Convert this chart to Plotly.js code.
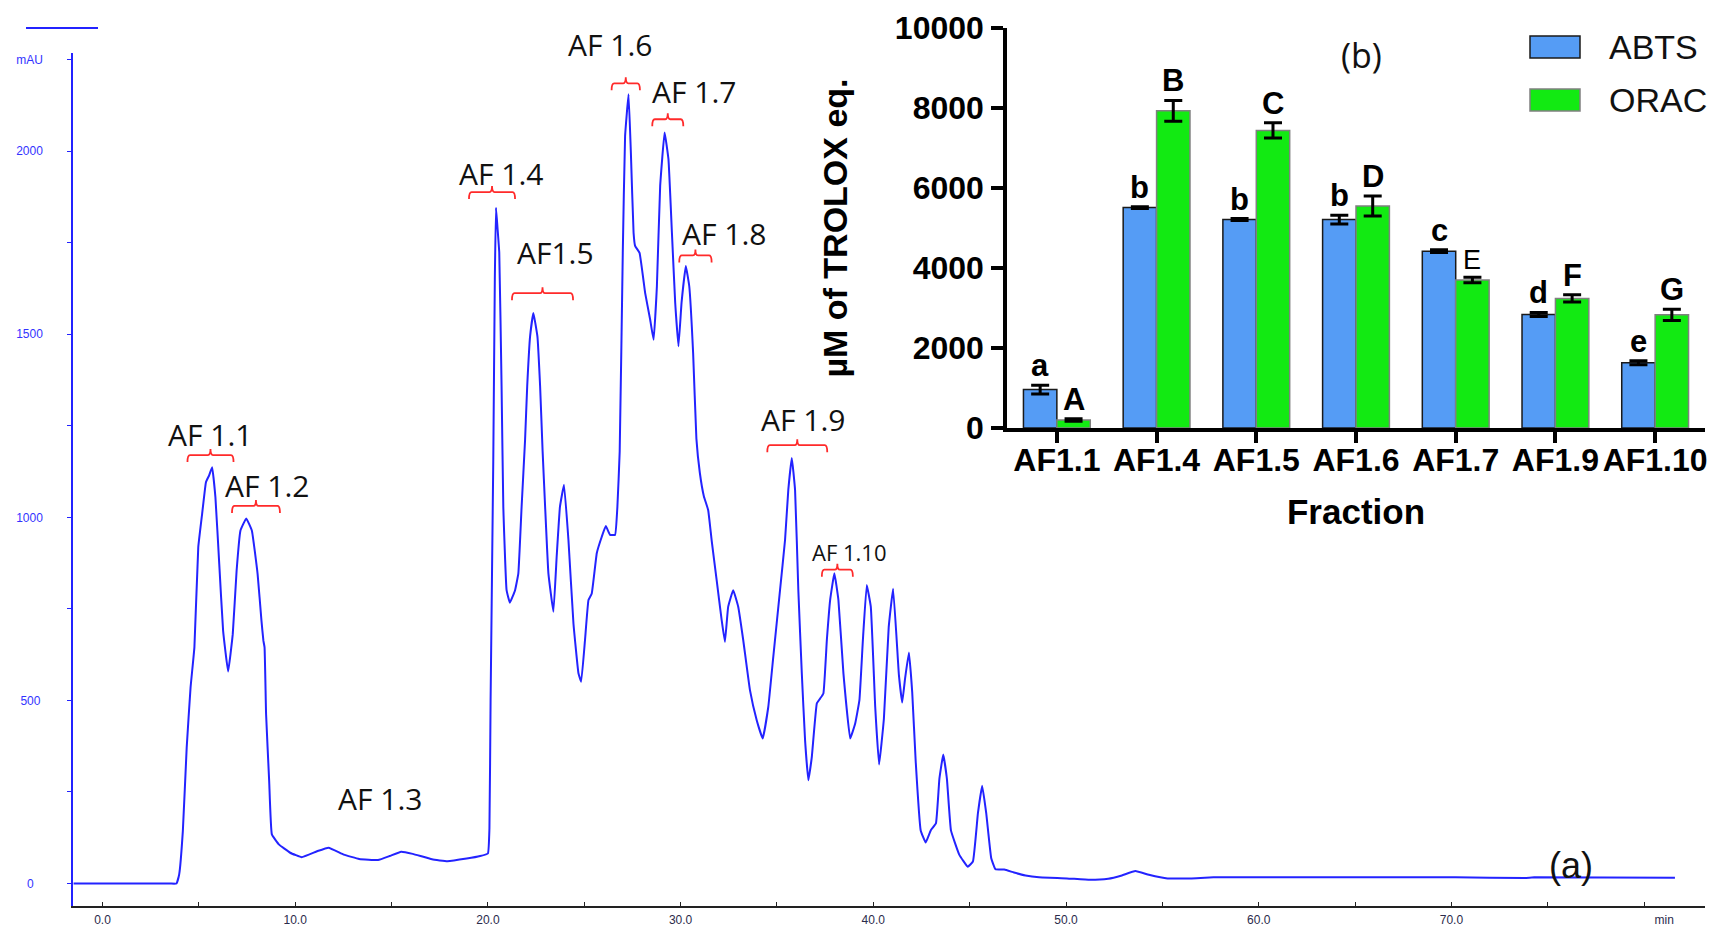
<!DOCTYPE html>
<html><head><meta charset="utf-8">
<script src="https://cdn.plot.ly/plotly-3.0.1.min.js"></script>
<style>html,body{margin:0;padding:0;background:#fff;}#chart{width:1714px;height:926px;}</style>
</head><body><div id="chart"></div>
<script>
// ---------- (a) chromatogram ----------
const timeMin = [-1.5,0,2,3.5,3.84,3.98,4.17,4.37,4.57,4.77,4.97,5.17,5.37,5.53,5.69,5.86,6.06,6.26,6.52,6.76,6.96,7.16,7.46,7.75,8.05,8.25,8.35,8.41,8.49,8.65,8.79,9.15,9.74,10.34,11.13,11.73,12.52,13.32,14.3,14.9,15.5,16.1,17.1,17.9,18.9,19.6,20.0,20.08,20.14,20.28,20.36,20.42,20.5,20.59,20.71,20.8,20.97,21.14,21.41,21.58,21.75,21.93,22.04,22.19,22.36,22.57,22.71,22.84,22.97,23.14,23.4,23.57,23.74,23.95,24.18,24.44,24.7,24.84,25.04,25.22,25.39,25.65,25.91,26.12,26.34,26.6,26.72,26.84,27.0,27.12,27.3,27.42,27.56,27.64,27.87,28.16,28.42,28.6,28.77,28.94,29.17,29.37,29.55,29.72,29.89,30.05,30.27,30.45,30.65,30.82,31.0,31.21,31.43,31.61,31.87,32.13,32.3,32.47,32.73,32.99,33.25,33.6,33.95,34.26,34.55,34.81,35.16,35.42,35.59,35.77,35.94,36.11,36.29,36.46,36.63,36.81,37.07,37.24,37.41,37.59,37.76,37.98,38.19,38.45,38.8,39.06,39.28,39.46,39.66,39.87,40.1,40.3,40.55,40.8,41.03,41.33,41.5,41.65,41.85,42.02,42.2,42.46,42.72,42.98,43.25,43.43,43.63,43.82,44.03,44.46,44.9,45.17,45.43,45.65,45.86,46.12,46.34,46.8,47.3,47.9,48.6,50.05,51.24,52.19,52.9,53.6,54.3,55.27,56.46,57.65,63.1,70.2,73.8,74.3,81.6];
const absorbanceMAU = [0,0,0,0,0,25,143,371,535,645,918,1009,1096,1114,1137,1055,872,690,579,681,854,964,997,964,845,718,663,645,462,280,134,107,84,72,88,98,79,67,64,75,87,81,66,61,68,75,82,150,500,1157,1650,1845,1790,1723,1358,1029,801,767,801,847,1029,1212,1358,1494,1558,1494,1358,1180,1029,847,742,893,1029,1089,938,710,574,551,665,774,792,902,947,976,952,952,1029,1180,1722,2041,2155,1996,1777,1741,1722,1613,1540,1485,1631,1905,2051,1978,1777,1586,1467,1586,1686,1631,1449,1215,1121,1057,1020,938,829,720,660,756,801,756,665,528,446,396,482,619,801,938,1075,1162,1075,801,574,391,282,346,492,505,519,665,774,847,774,574,396,437,501,665,815,756,482,325,450,700,805,569,494,560,631,522,334,145,112,145,164,286,352,286,145,79,46,60,192,267,192,69,39,38,30,22,17,14,10,13,22,34,24,14,14,17,17,17,15,17,16];

const peakLabels   = ['AF 1.1','AF 1.2','AF 1.3','AF 1.4','AF1.5','AF 1.6','AF 1.7','AF 1.8','AF 1.9','AF 1.10'];
const peakLabelMin = [5.58, 8.54, 14.40, 20.68, 23.53, 26.34, 30.70, 32.25, 36.35, 38.79];
const peakLabelMAU = [1225, 1088, 231, 1940, 1722, 2290, 2164, 1776, 1266, 905];

const bracketStartMin = [4.41, 6.72, 19.02, 21.25, 26.42, 28.53, 29.93, 34.50, 37.33];
const bracketEndMin   = [6.80, 9.21, 21.41, 24.42, 27.89, 30.14, 31.61, 37.61, 38.94];
const bracketMAU      = [1170, 1031, 1888, 1612, 2185, 2087, 1715, 1197, 857];

const timeTickVals = [0,10,20,30,40,50,60,70,80];
const timeTickText = ['0.0','10.0','20.0','30.0','40.0','50.0','60.0','70.0','\u2007\u2007\u2007\u2007\u2007\u2007min'];
const mauTickVals  = [0,500,1000,1500,2000,2250];
const mauTickText  = ['0\u2007\u2009','500\u2009','1000','1500','2000','mAU'];

// ---------- (b) antioxidant activity ----------
const fractions   = ['AF1.1','AF1.4','AF1.5','AF1.6','AF1.7','AF1.9','AF1.10'];
const abts        = [960, 5510, 5210, 5210, 4420, 2840, 1630];
const abtsErr     = [110, 20, 25, 110, 35, 50, 50];
const orac        = [200, 7930, 7440, 5550, 3700, 3240, 2830];
const oracErr     = [30, 260, 190, 250, 70, 90, 140];
const abtsLetters = ['a','b','b','b','c','d','e'];
const oracLetters = ['A','B','C','D','E','F','G'];
const troloxTicks = [0,2000,4000,6000,8000,10000];

// ---------- layout geometry ----------
const W = 1714, H = 926;
const px = p => p / W, py = p => 1 - p / H;
const xRange = [-1.53, 83.16], yRange = [-61.4, 2267.9];
const yDomain = [py(906), py(53)];
const plotW = 1705 - 73, plotH = 906 - 53;
const kx = (xRange[1] - xRange[0]) / plotW;   // minutes per pixel
const ky = (yRange[1] - yRange[0]) / plotH;   // mAU per pixel
const mauToPaper = v => yDomain[0] + (v - yRange[0]) / (yRange[1] - yRange[0]) * (yDomain[1] - yDomain[0]);

const BLUE_LINE = '#2323ff';
const ABTS_COL = '#559cf5', ORAC_COL = '#12ea12';
const SANS = 'Liberation Sans, Arial, sans-serif';
const boldFont = (s, c) => ({family: SANS, size: s, color: c || '#000', weight: 'bold'});

const traces = [
  {type: 'scatter', mode: 'lines', x: timeMin, y: absorbanceMAU, xaxis: 'x', yaxis: 'y',
   line: {color: BLUE_LINE, width: 2, shape: 'spline', smoothing: 0.3}, hoverinfo: 'skip', showlegend: false},
  {type: 'bar', name: 'ABTS', x: fractions, y: abts, xaxis: 'x2', yaxis: 'y2',
   marker: {color: ABTS_COL, line: {color: '#1a1a1a', width: 1.5}},
   error_y: {type: 'data', array: abtsErr, visible: true, color: '#000', thickness: 3, width: 9}},
  {type: 'bar', name: 'ORAC', x: fractions, y: orac, xaxis: 'x2', yaxis: 'y2',
   marker: {color: ORAC_COL, line: {color: '#808080', width: 1.5}},
   error_y: {type: 'data', array: oracErr, visible: true, color: '#000', thickness: 3, width: 9}}
];

const shapes = [];
for (let i = 0; i < bracketStartMin.length; i++) {
  const t0 = bracketStartMin[i], t1 = bracketEndMin[i], v = bracketMAU[i];
  const d = 7 * ky, u = 6 * ky, r = 2.5 * kx, tm = (t0 + t1) / 2;
  const path = `M${t0},${v - d} Q${t0},${v} ${t0 + r},${v} L${tm - r},${v} Q${tm},${v} ${tm},${v + u} ` +
               `Q${tm},${v} ${tm + r},${v} L${t1 - r},${v} Q${t1},${v} ${t1},${v - d}`;
  shapes.push({type: 'path', xref: 'x', yref: 'y', path: path, line: {color: '#ff2a2a', width: 1.8}});
}
shapes.push({type: 'line', xref: 'paper', yref: 'paper', x0: px(26), x1: px(98), y0: py(28), y1: py(28),
             line: {color: BLUE_LINE, width: 2}});
shapes.push({type: 'rect', xref: 'paper', yref: 'paper', x0: px(1530), x1: px(1580), y0: py(58), y1: py(36),
             fillcolor: ABTS_COL, line: {color: '#1a1a1a', width: 1.5}});
shapes.push({type: 'rect', xref: 'paper', yref: 'paper', x0: px(1530), x1: px(1580), y0: py(111), y1: py(89),
             fillcolor: ORAC_COL, line: {color: '#808080', width: 1.5}});

const annotations = [];
peakLabels.forEach((t, i) => annotations.push({
  xref: 'x', yref: 'paper', x: peakLabelMin[i], y: mauToPaper(peakLabelMAU[i]), text: t, showarrow: false,
  xanchor: 'center', yanchor: 'middle',
  font: {family: 'Open Sans, sans-serif', size: t === 'AF 1.10' ? 22 : 30, color: '#111'}
}));
annotations.push({xref: 'paper', yref: 'paper', x: px(1571), y: py(865), text: '(a)', showarrow: false,
  xanchor: 'center', yanchor: 'middle', font: {family: SANS, size: 36, color: '#111'}});
annotations.push({xref: 'paper', yref: 'paper', x: px(1361), y: py(55), text: '(b)', showarrow: false,
  xanchor: 'center', yanchor: 'middle', font: {family: 'Open Sans, sans-serif', size: 34, color: '#111'}});
annotations.push({xref: 'paper', yref: 'paper', x: px(1607), y: py(47), text: 'ABTS', showarrow: false,
  xanchor: 'left', yanchor: 'middle', font: {family: SANS, size: 34, color: '#111'}});
annotations.push({xref: 'paper', yref: 'paper', x: px(1607), y: py(100), text: 'ORAC', showarrow: false,
  xanchor: 'left', yanchor: 'middle', font: {family: SANS, size: 34, color: '#111'}});
fractions.forEach((f, i) => {
  annotations.push({xref: 'x2', yref: 'y2', x: f, y: abts[i] + abtsErr[i], xshift: -16.7, yanchor: 'bottom',
    text: abtsLetters[i], showarrow: false, font: boldFont(31)});
  const L = oracLetters[i];
  annotations.push({xref: 'x2', yref: 'y2', x: f, y: orac[i] + oracErr[i], xshift: 16.7, yanchor: 'bottom',
    text: L, showarrow: false,
    font: L === 'E' ? {family: SANS, size: 27, color: '#000'} : boldFont(31)});
});

const layout = {
  width: W, height: H, margin: {l: 0, r: 0, t: 0, b: 0, pad: 0},
  paper_bgcolor: '#fff', plot_bgcolor: 'rgba(0,0,0,0)', showlegend: false,
  barmode: 'group', bargap: 0.33, bargroupgap: 0,
  xaxis: {domain: [px(73), px(1705)], range: xRange, anchor: 'y', showgrid: false, zeroline: false,
    showline: true, linecolor: '#222', linewidth: 2, ticks: 'inside', ticklen: 4, tickcolor: '#222', tickwidth: 1,
    tickmode: 'array', tickvals: timeTickVals, ticktext: timeTickText, ticklabelstandoff: 2,
    tickfont: {family: SANS, size: 12, color: '#2b2b4b'},
    minor: {tickmode: 'linear', tick0: 0, dtick: 5, ticks: 'inside', ticklen: 4, tickcolor: '#222', showgrid: false}},
  yaxis: {domain: yDomain, range: yRange, anchor: 'x', showgrid: false, zeroline: false,
    showline: true, linecolor: BLUE_LINE, linewidth: 1.5, ticks: 'outside', ticklen: 4, tickcolor: BLUE_LINE,
    tickmode: 'array', tickvals: mauTickVals, ticktext: mauTickText, ticklabelstandoff: 22,
    tickfont: {family: SANS, size: 12, color: '#3333ff'},
    minor: {tickmode: 'linear', tick0: 0, dtick: 250, ticks: 'outside', ticklen: 4, tickcolor: BLUE_LINE, showgrid: false}},
  xaxis2: {domain: [px(1007), px(1705)], anchor: 'y2', type: 'category', range: [-0.5, 6.5],
    showgrid: false, zeroline: false, showline: true, linecolor: '#000', linewidth: 3.5,
    ticks: 'outside', ticklen: 11, tickwidth: 3.5, tickcolor: '#000', ticklabelstandoff: -10,
    tickfont: boldFont(32),
    title: {text: 'Fraction', font: boldFont(35), standoff: 23}},
  yaxis2: {domain: [py(428), py(28)], anchor: 'x2', range: [0, 10000], showgrid: false, zeroline: false,
    showline: true, linecolor: '#000', linewidth: 3.5, ticks: 'outside', ticklen: 12, tickwidth: 3.5,
    tickcolor: '#000', tickmode: 'array', tickvals: troloxTicks, tickformat: 'd', ticklabelstandoff: 1,
    tickfont: boldFont(32),
    title: {text: '\u00b5M of TROLOX eq.', font: boldFont(34), standoff: 38}},
  shapes: shapes, annotations: annotations
};

Plotly.newPlot('chart', traces, layout, {displayModeBar: false, responsive: false});
</script></body></html>
